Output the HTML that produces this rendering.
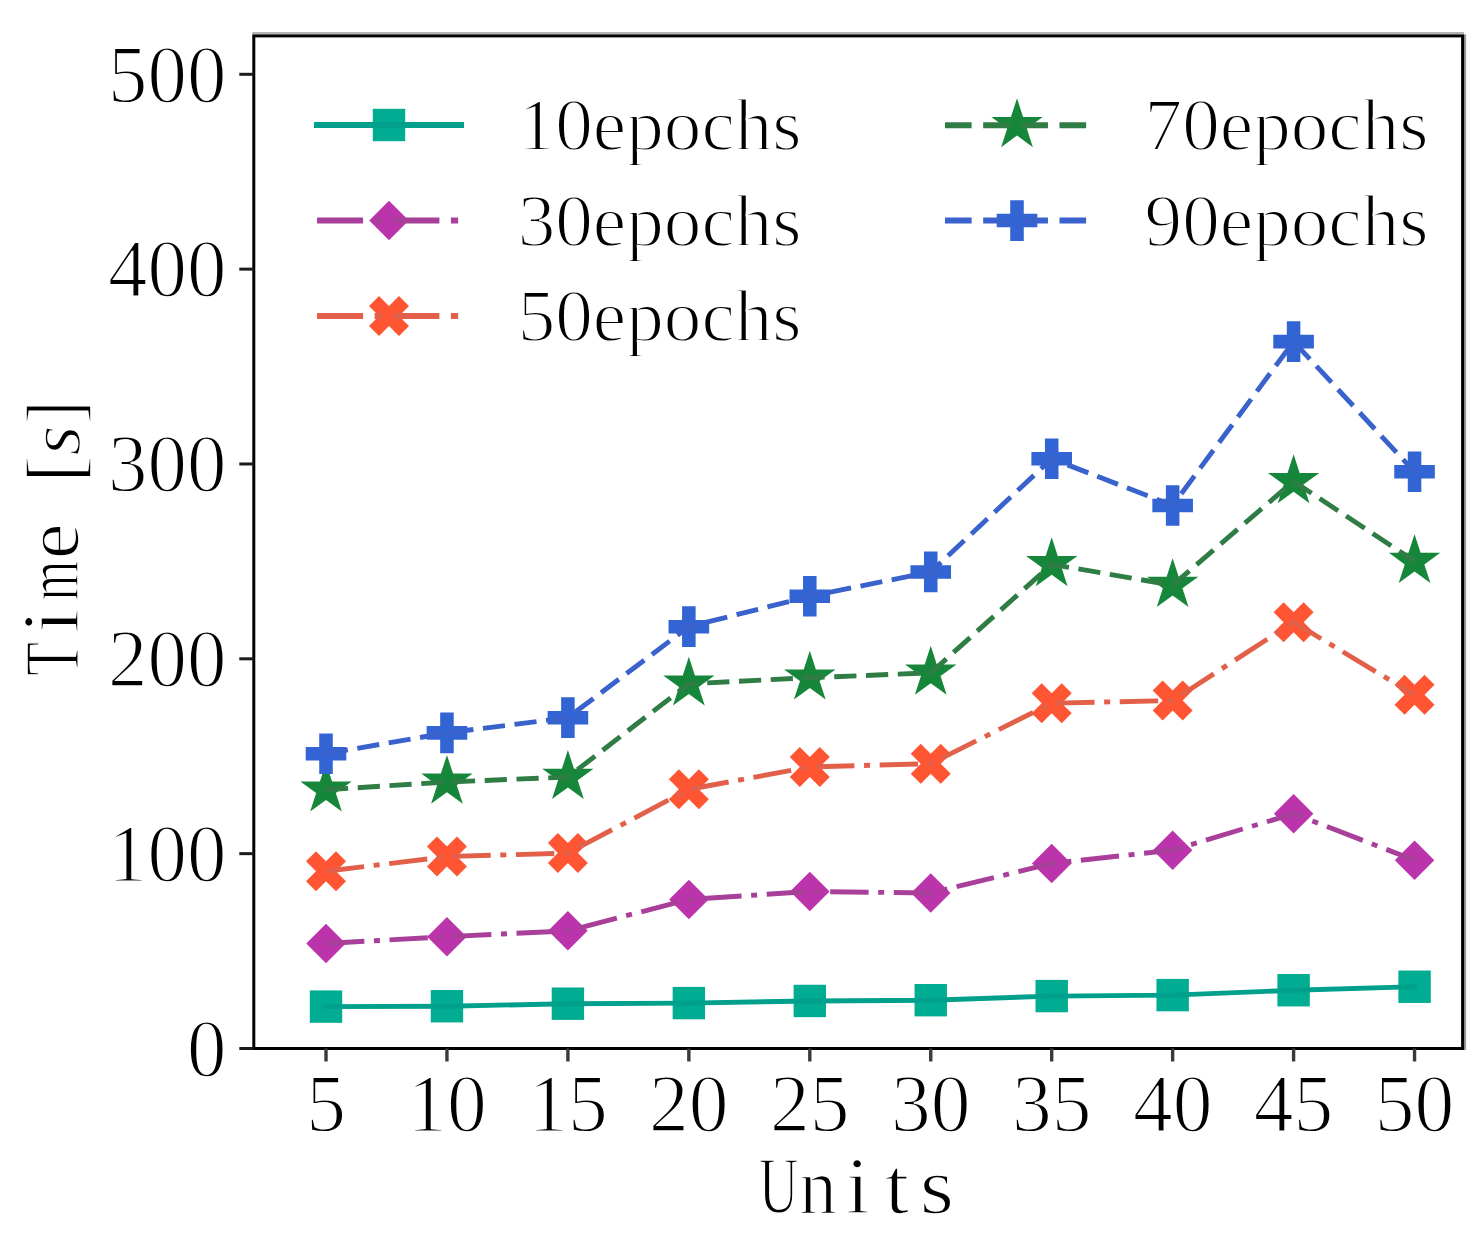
<!DOCTYPE html>
<html><head><meta charset="utf-8"><style>
html,body{margin:0;padding:0;background:#fff;width:1484px;height:1251px;overflow:hidden;font-family:"Liberation Serif",serif;}
svg{display:block}
</style></head><body>
<svg width="1484" height="1251" viewBox="0 0 1484 1251">
<rect width="1484" height="1251" fill="#fff"/>
<rect x="309.80" y="990.41" width="32.40" height="32.40" fill="#00ac92" fill-opacity="1.0"/>
<rect x="430.75" y="990.02" width="32.40" height="32.40" fill="#00ac92" fill-opacity="1.0"/>
<rect x="551.70" y="987.49" width="32.40" height="32.40" fill="#00ac92" fill-opacity="1.0"/>
<rect x="672.65" y="986.90" width="32.40" height="32.40" fill="#00ac92" fill-opacity="1.0"/>
<rect x="793.60" y="984.76" width="32.40" height="32.40" fill="#00ac92" fill-opacity="1.0"/>
<rect x="914.55" y="983.98" width="32.40" height="32.40" fill="#00ac92" fill-opacity="1.0"/>
<rect x="1035.50" y="979.89" width="32.40" height="32.40" fill="#00ac92" fill-opacity="1.0"/>
<rect x="1156.45" y="978.91" width="32.40" height="32.40" fill="#00ac92" fill-opacity="1.0"/>
<rect x="1277.40" y="974.04" width="32.40" height="32.40" fill="#00ac92" fill-opacity="1.0"/>
<rect x="1398.35" y="970.54" width="32.40" height="32.40" fill="#00ac92" fill-opacity="1.0"/>
<polyline points="326.00,1006.61 446.95,1006.22 567.90,1003.69 688.85,1003.10 809.80,1000.96 930.75,1000.18 1051.70,996.09 1172.65,995.11 1293.60,990.24 1414.55,986.74" fill="none" stroke="#00a08c" stroke-opacity="1.0" stroke-width="4.9" stroke-linecap="square" stroke-linejoin="round"/>
<polygon points="326.00,923.73 345.75,943.48 326.00,963.23 306.25,943.48" fill="#bc34ac" fill-opacity="1.0"/>
<polygon points="446.95,916.91 466.70,936.66 446.95,956.41 427.20,936.66" fill="#bc34ac" fill-opacity="1.0"/>
<polygon points="567.90,911.07 587.65,930.82 567.90,950.57 548.15,930.82" fill="#bc34ac" fill-opacity="1.0"/>
<polygon points="688.85,879.70 708.60,899.45 688.85,919.20 669.10,899.45" fill="#bc34ac" fill-opacity="1.0"/>
<polygon points="809.80,871.71 829.55,891.46 809.80,911.21 790.05,891.46" fill="#bc34ac" fill-opacity="1.0"/>
<polygon points="930.75,873.27 950.50,893.02 930.75,912.77 911.00,893.02" fill="#bc34ac" fill-opacity="1.0"/>
<polygon points="1051.70,843.65 1071.45,863.40 1051.70,883.15 1031.95,863.40" fill="#bc34ac" fill-opacity="1.0"/>
<polygon points="1172.65,830.40 1192.40,850.15 1172.65,869.90 1152.90,850.15" fill="#bc34ac" fill-opacity="1.0"/>
<polygon points="1293.60,793.97 1313.35,813.72 1293.60,833.47 1273.85,813.72" fill="#bc34ac" fill-opacity="1.0"/>
<polygon points="1414.55,840.53 1434.30,860.28 1414.55,880.03 1394.80,860.28" fill="#bc34ac" fill-opacity="1.0"/>
<polyline points="326.00,943.48 446.95,936.66 567.90,930.82 688.85,899.45 809.80,891.46 930.75,893.02 1051.70,863.40 1172.65,850.15 1293.60,813.72 1414.55,860.28" fill="none" stroke="#a8409a" stroke-opacity="1.0" stroke-width="4.9" stroke-linecap="butt" stroke-linejoin="round" stroke-dasharray="38.40 9.60 6.00 9.60"/>
<polygon points="316.00,851.20 326.00,861.20 336.00,851.20 346.00,861.20 336.00,871.20 346.00,881.20 336.00,891.20 326.00,881.20 316.00,891.20 306.00,881.20 316.00,871.20 306.00,861.20" fill="#ff5532" fill-opacity="1.0"/>
<polygon points="436.95,836.58 446.95,846.58 456.95,836.58 466.95,846.58 456.95,856.58 466.95,866.58 456.95,876.58 446.95,866.58 436.95,876.58 426.95,866.58 436.95,856.58 426.95,846.58" fill="#ff5532" fill-opacity="1.0"/>
<polygon points="557.90,833.08 567.90,843.08 577.90,833.08 587.90,843.08 577.90,853.08 587.90,863.08 577.90,873.08 567.90,863.08 557.90,873.08 547.90,863.08 557.90,853.08 547.90,843.08" fill="#ff5532" fill-opacity="1.0"/>
<polygon points="678.85,769.36 688.85,779.36 698.85,769.36 708.85,779.36 698.85,789.36 708.85,799.36 698.85,809.36 688.85,799.36 678.85,809.36 668.85,799.36 678.85,789.36 668.85,779.36" fill="#ff5532" fill-opacity="1.0"/>
<polygon points="799.80,746.96 809.80,756.96 819.80,746.96 829.80,756.96 819.80,766.96 829.80,776.96 819.80,786.96 809.80,776.96 799.80,786.96 789.80,776.96 799.80,766.96 789.80,756.96" fill="#ff5532" fill-opacity="1.0"/>
<polygon points="920.75,743.64 930.75,753.64 940.75,743.64 950.75,753.64 940.75,763.64 950.75,773.64 940.75,783.64 930.75,773.64 920.75,783.64 910.75,773.64 920.75,763.64 910.75,753.64" fill="#ff5532" fill-opacity="1.0"/>
<polygon points="1041.70,683.24 1051.70,693.24 1061.70,683.24 1071.70,693.24 1061.70,703.24 1071.70,713.24 1061.70,723.24 1051.70,713.24 1041.70,723.24 1031.70,713.24 1041.70,703.24 1031.70,693.24" fill="#ff5532" fill-opacity="1.0"/>
<polygon points="1162.65,680.52 1172.65,690.52 1182.65,680.52 1192.65,690.52 1182.65,700.52 1192.65,710.52 1182.65,720.52 1172.65,710.52 1162.65,720.52 1152.65,710.52 1162.65,700.52 1152.65,690.52" fill="#ff5532" fill-opacity="1.0"/>
<polygon points="1283.60,602.19 1293.60,612.19 1303.60,602.19 1313.60,612.19 1303.60,622.19 1313.60,632.19 1303.60,642.19 1293.60,632.19 1283.60,642.19 1273.60,632.19 1283.60,622.19 1273.60,612.19" fill="#ff5532" fill-opacity="1.0"/>
<polygon points="1404.55,674.87 1414.55,684.87 1424.55,674.87 1434.55,684.87 1424.55,694.87 1434.55,704.87 1424.55,714.87 1414.55,704.87 1404.55,714.87 1394.55,704.87 1404.55,694.87 1394.55,684.87" fill="#ff5532" fill-opacity="1.0"/>
<polyline points="326.00,871.20 446.95,856.58 567.90,853.08 688.85,789.36 809.80,766.96 930.75,763.64 1051.70,703.24 1172.65,700.52 1293.60,622.19 1414.55,694.87" fill="none" stroke="#e2604a" stroke-opacity="1.0" stroke-width="4.9" stroke-linecap="butt" stroke-linejoin="round" stroke-dasharray="38.40 9.60 6.00 9.60"/>
<polygon points="326.00,762.75 319.94,781.41 300.32,781.41 316.19,792.94 310.13,811.60 326.00,800.07 341.87,811.60 335.81,792.94 351.68,781.41 332.06,781.41" fill="#16873a" fill-opacity="1.0"/>
<polygon points="446.95,754.96 440.89,773.62 421.27,773.62 437.14,785.15 431.08,803.80 446.95,792.27 462.82,803.80 456.76,785.15 472.63,773.62 453.01,773.62" fill="#16873a" fill-opacity="1.0"/>
<polygon points="567.90,750.09 561.84,768.74 542.22,768.74 558.09,780.27 552.03,798.93 567.90,787.40 583.77,798.93 577.71,780.27 593.58,768.74 573.96,768.74" fill="#16873a" fill-opacity="1.0"/>
<polygon points="688.85,656.76 682.79,675.42 663.17,675.42 679.04,686.95 672.98,705.60 688.85,694.07 704.72,705.60 698.66,686.95 714.53,675.42 694.91,675.42" fill="#16873a" fill-opacity="1.0"/>
<polygon points="809.80,650.72 803.74,669.38 784.12,669.38 799.99,680.91 793.93,699.56 809.80,688.03 825.67,699.56 819.61,680.91 835.48,669.38 815.86,669.38" fill="#16873a" fill-opacity="1.0"/>
<polygon points="930.75,645.85 924.69,664.51 905.07,664.51 920.94,676.04 914.88,694.69 930.75,683.16 946.62,694.69 940.56,676.04 956.43,664.51 936.81,664.51" fill="#16873a" fill-opacity="1.0"/>
<polygon points="1051.70,537.32 1045.64,555.98 1026.02,555.98 1041.89,567.51 1035.83,586.17 1051.70,574.64 1067.57,586.17 1061.51,567.51 1077.38,555.98 1057.76,555.98" fill="#16873a" fill-opacity="1.0"/>
<polygon points="1172.65,558.17 1166.59,576.83 1146.97,576.83 1162.84,588.36 1156.78,607.01 1172.65,595.48 1188.52,607.01 1182.46,588.36 1198.33,576.83 1178.71,576.83" fill="#16873a" fill-opacity="1.0"/>
<polygon points="1293.60,454.32 1287.54,472.98 1267.92,472.98 1283.79,484.51 1277.73,503.16 1293.60,491.63 1309.47,503.16 1303.41,484.51 1319.28,472.98 1299.66,472.98" fill="#16873a" fill-opacity="1.0"/>
<polygon points="1414.55,534.21 1408.49,552.86 1388.87,552.86 1404.74,564.39 1398.68,583.05 1414.55,571.52 1430.42,583.05 1424.36,564.39 1440.23,552.86 1420.61,552.86" fill="#16873a" fill-opacity="1.0"/>
<polyline points="326.00,789.75 446.95,781.96 567.90,777.09 688.85,683.76 809.80,677.72 930.75,672.85 1051.70,564.32 1172.65,585.17 1293.60,481.32 1414.55,561.21" fill="none" stroke="#2f7d45" stroke-opacity="1.0" stroke-width="4.9" stroke-linecap="butt" stroke-linejoin="round" stroke-dasharray="22.20 9.60"/>
<polygon points="319.23,733.41 332.77,733.41 332.77,746.94 346.30,746.94 346.30,760.47 332.77,760.47 332.77,774.01 319.23,774.01 319.23,760.47 305.70,760.47 305.70,746.94 319.23,746.94" fill="#3264d4" fill-opacity="1.0"/>
<polygon points="440.18,712.56 453.72,712.56 453.72,726.09 467.25,726.09 467.25,739.63 453.72,739.63 453.72,753.16 440.18,753.16 440.18,739.63 426.65,739.63 426.65,726.09 440.18,726.09" fill="#3264d4" fill-opacity="1.0"/>
<polygon points="561.13,697.36 574.67,697.36 574.67,710.90 588.20,710.90 588.20,724.43 574.67,724.43 574.67,737.96 561.13,737.96 561.13,724.43 547.60,724.43 547.60,710.90 561.13,710.90" fill="#3264d4" fill-opacity="1.0"/>
<polygon points="682.08,606.37 695.62,606.37 695.62,619.90 709.15,619.90 709.15,633.44 695.62,633.44 695.62,646.97 682.08,646.97 682.08,633.44 668.55,633.44 668.55,619.90 682.08,619.90" fill="#3264d4" fill-opacity="1.0"/>
<polygon points="803.03,575.98 816.57,575.98 816.57,589.51 830.10,589.51 830.10,603.04 816.57,603.04 816.57,616.58 803.03,616.58 803.03,603.04 789.50,603.04 789.50,589.51 803.03,589.51" fill="#3264d4" fill-opacity="1.0"/>
<polygon points="923.98,551.62 937.52,551.62 937.52,565.15 951.05,565.15 951.05,578.69 937.52,578.69 937.52,592.22 923.98,592.22 923.98,578.69 910.45,578.69 910.45,565.15 923.98,565.15" fill="#3264d4" fill-opacity="1.0"/>
<polygon points="1044.93,438.42 1058.47,438.42 1058.47,451.95 1072.00,451.95 1072.00,465.49 1058.47,465.49 1058.47,479.02 1044.93,479.02 1044.93,465.49 1031.40,465.49 1031.40,451.95 1044.93,451.95" fill="#3264d4" fill-opacity="1.0"/>
<polygon points="1165.88,485.18 1179.42,485.18 1179.42,498.71 1192.95,498.71 1192.95,512.25 1179.42,512.25 1179.42,525.78 1165.88,525.78 1165.88,512.25 1152.35,512.25 1152.35,498.71 1165.88,498.71" fill="#3264d4" fill-opacity="1.0"/>
<polygon points="1286.83,321.32 1300.37,321.32 1300.37,334.85 1313.90,334.85 1313.90,348.39 1300.37,348.39 1300.37,361.92 1286.83,361.92 1286.83,348.39 1273.30,348.39 1273.30,334.85 1286.83,334.85" fill="#3264d4" fill-opacity="1.0"/>
<polygon points="1407.78,451.47 1421.32,451.47 1421.32,465.01 1434.85,465.01 1434.85,478.54 1421.32,478.54 1421.32,492.07 1407.78,492.07 1407.78,478.54 1394.25,478.54 1394.25,465.01 1407.78,465.01" fill="#3264d4" fill-opacity="1.0"/>
<polyline points="326.00,753.71 446.95,732.86 567.90,717.66 688.85,626.67 809.80,596.28 930.75,571.92 1051.70,458.72 1172.65,505.48 1293.60,341.62 1414.55,471.77" fill="none" stroke="#3a62cc" stroke-opacity="1.0" stroke-width="4.9" stroke-linecap="butt" stroke-linejoin="round" stroke-dasharray="22.20 9.60"/>
<line x1="252.30" y1="33.2" x2="1464.10" y2="33.2" stroke="#b4b4b4" stroke-width="2.2"/>
<line x1="1465.0" y1="34.40" x2="1465.0" y2="1050.00" stroke="#9a9a9a" stroke-width="2.2"/>
<rect x="253.80" y="35.90" width="1208.80" height="1012.60" fill="none" stroke="#000" stroke-width="3.0"/>
<line x1="239.30" y1="1048.50" x2="253.80" y2="1048.50" stroke="#1a1a1a" stroke-width="3.0"/>
<text transform="translate(226.3,1075.80) scale(0.95,1)" font-family="Liberation Serif, serif" stroke="#fff" stroke-width="1.8" paint-order="fill stroke" font-size="83" text-anchor="end" fill="#000">0</text>
<line x1="239.30" y1="853.66" x2="253.80" y2="853.66" stroke="#1a1a1a" stroke-width="3.0"/>
<text transform="translate(226.3,880.96) scale(0.95,1)" font-family="Liberation Serif, serif" stroke="#fff" stroke-width="1.8" paint-order="fill stroke" font-size="83" text-anchor="end" fill="#000">100</text>
<line x1="239.30" y1="658.82" x2="253.80" y2="658.82" stroke="#1a1a1a" stroke-width="3.0"/>
<text transform="translate(226.3,686.12) scale(0.95,1)" font-family="Liberation Serif, serif" stroke="#fff" stroke-width="1.8" paint-order="fill stroke" font-size="83" text-anchor="end" fill="#000">200</text>
<line x1="239.30" y1="463.98" x2="253.80" y2="463.98" stroke="#1a1a1a" stroke-width="3.0"/>
<text transform="translate(226.3,491.28) scale(0.95,1)" font-family="Liberation Serif, serif" stroke="#fff" stroke-width="1.8" paint-order="fill stroke" font-size="83" text-anchor="end" fill="#000">300</text>
<line x1="239.30" y1="269.14" x2="253.80" y2="269.14" stroke="#1a1a1a" stroke-width="3.0"/>
<text transform="translate(226.3,296.44) scale(0.95,1)" font-family="Liberation Serif, serif" stroke="#fff" stroke-width="1.8" paint-order="fill stroke" font-size="83" text-anchor="end" fill="#000">400</text>
<line x1="239.30" y1="74.30" x2="253.80" y2="74.30" stroke="#1a1a1a" stroke-width="3.0"/>
<text transform="translate(226.3,101.60) scale(0.95,1)" font-family="Liberation Serif, serif" stroke="#fff" stroke-width="1.8" paint-order="fill stroke" font-size="83" text-anchor="end" fill="#000">500</text>
<line x1="326.00" y1="1048.50" x2="326.00" y2="1061.50" stroke="#3a3a3a" stroke-width="3.4"/>
<text transform="translate(326.00,1131.0) scale(0.958,1)" font-family="Liberation Serif, serif" stroke="#fff" stroke-width="1.8" paint-order="fill stroke" font-size="83" text-anchor="middle" fill="#000">5</text>
<line x1="446.95" y1="1048.50" x2="446.95" y2="1061.50" stroke="#3a3a3a" stroke-width="3.4"/>
<text transform="translate(446.95,1131.0) scale(0.958,1)" font-family="Liberation Serif, serif" stroke="#fff" stroke-width="1.8" paint-order="fill stroke" font-size="83" text-anchor="middle" fill="#000">10</text>
<line x1="567.90" y1="1048.50" x2="567.90" y2="1061.50" stroke="#3a3a3a" stroke-width="3.4"/>
<text transform="translate(567.90,1131.0) scale(0.958,1)" font-family="Liberation Serif, serif" stroke="#fff" stroke-width="1.8" paint-order="fill stroke" font-size="83" text-anchor="middle" fill="#000">15</text>
<line x1="688.85" y1="1048.50" x2="688.85" y2="1061.50" stroke="#3a3a3a" stroke-width="3.4"/>
<text transform="translate(688.85,1131.0) scale(0.958,1)" font-family="Liberation Serif, serif" stroke="#fff" stroke-width="1.8" paint-order="fill stroke" font-size="83" text-anchor="middle" fill="#000">20</text>
<line x1="809.80" y1="1048.50" x2="809.80" y2="1061.50" stroke="#3a3a3a" stroke-width="3.4"/>
<text transform="translate(809.80,1131.0) scale(0.958,1)" font-family="Liberation Serif, serif" stroke="#fff" stroke-width="1.8" paint-order="fill stroke" font-size="83" text-anchor="middle" fill="#000">25</text>
<line x1="930.75" y1="1048.50" x2="930.75" y2="1061.50" stroke="#3a3a3a" stroke-width="3.4"/>
<text transform="translate(930.75,1131.0) scale(0.958,1)" font-family="Liberation Serif, serif" stroke="#fff" stroke-width="1.8" paint-order="fill stroke" font-size="83" text-anchor="middle" fill="#000">30</text>
<line x1="1051.70" y1="1048.50" x2="1051.70" y2="1061.50" stroke="#3a3a3a" stroke-width="3.4"/>
<text transform="translate(1051.70,1131.0) scale(0.958,1)" font-family="Liberation Serif, serif" stroke="#fff" stroke-width="1.8" paint-order="fill stroke" font-size="83" text-anchor="middle" fill="#000">35</text>
<line x1="1172.65" y1="1048.50" x2="1172.65" y2="1061.50" stroke="#3a3a3a" stroke-width="3.4"/>
<text transform="translate(1172.65,1131.0) scale(0.958,1)" font-family="Liberation Serif, serif" stroke="#fff" stroke-width="1.8" paint-order="fill stroke" font-size="83" text-anchor="middle" fill="#000">40</text>
<line x1="1293.60" y1="1048.50" x2="1293.60" y2="1061.50" stroke="#3a3a3a" stroke-width="3.4"/>
<text transform="translate(1293.60,1131.0) scale(0.958,1)" font-family="Liberation Serif, serif" stroke="#fff" stroke-width="1.8" paint-order="fill stroke" font-size="83" text-anchor="middle" fill="#000">45</text>
<line x1="1414.55" y1="1048.50" x2="1414.55" y2="1061.50" stroke="#3a3a3a" stroke-width="3.4"/>
<text transform="translate(1414.55,1131.0) scale(0.958,1)" font-family="Liberation Serif, serif" stroke="#fff" stroke-width="1.8" paint-order="fill stroke" font-size="83" text-anchor="middle" fill="#000">50</text>
<rect x="372.80" y="108.80" width="32.40" height="32.40" fill="#00ac92" fill-opacity="1.0"/>
<polyline points="317.00,125.00 461.00,125.00" fill="none" stroke="#00a08c" stroke-opacity="1.0" stroke-width="6.0" stroke-linecap="square" stroke-linejoin="round"/>
<text transform="translate(517.7,150.00) scale(1.016,1)" font-family="Liberation Serif, serif" stroke="#fff" stroke-width="1.8" paint-order="fill stroke" font-size="74" fill="#000">10epochs</text>
<polygon points="389.00,200.75 408.75,220.50 389.00,240.25 369.25,220.50" fill="#bc34ac" fill-opacity="1.0"/>
<polyline points="317.00,220.50 461.00,220.50" fill="none" stroke="#a8409a" stroke-opacity="1.0" stroke-width="6.0" stroke-linecap="butt" stroke-linejoin="round" stroke-dasharray="46.08 11.52 7.20 11.52"/>
<text transform="translate(517.7,245.50) scale(1.016,1)" font-family="Liberation Serif, serif" stroke="#fff" stroke-width="1.8" paint-order="fill stroke" font-size="74" fill="#000">30epochs</text>
<polygon points="379.00,296.00 389.00,306.00 399.00,296.00 409.00,306.00 399.00,316.00 409.00,326.00 399.00,336.00 389.00,326.00 379.00,336.00 369.00,326.00 379.00,316.00 369.00,306.00" fill="#ff5532" fill-opacity="1.0"/>
<polyline points="317.00,316.00 461.00,316.00" fill="none" stroke="#e2604a" stroke-opacity="1.0" stroke-width="6.0" stroke-linecap="butt" stroke-linejoin="round" stroke-dasharray="46.08 11.52 7.20 11.52"/>
<text transform="translate(517.7,341.00) scale(1.016,1)" font-family="Liberation Serif, serif" stroke="#fff" stroke-width="1.8" paint-order="fill stroke" font-size="74" fill="#000">50epochs</text>
<polygon points="1017.00,98.30 1010.94,116.96 991.32,116.96 1007.19,128.49 1001.13,147.14 1017.00,135.61 1032.87,147.14 1026.81,128.49 1042.68,116.96 1023.06,116.96" fill="#16873a" fill-opacity="1.0"/>
<polyline points="945.00,125.30 1089.00,125.30" fill="none" stroke="#2f7d45" stroke-opacity="1.0" stroke-width="6.0" stroke-linecap="butt" stroke-linejoin="round" stroke-dasharray="26.64 11.52"/>
<text transform="translate(1144.6,150.30) scale(1.016,1)" font-family="Liberation Serif, serif" stroke="#fff" stroke-width="1.8" paint-order="fill stroke" font-size="74" fill="#000">70epochs</text>
<polygon points="1010.23,200.30 1023.77,200.30 1023.77,213.83 1037.30,213.83 1037.30,227.37 1023.77,227.37 1023.77,240.90 1010.23,240.90 1010.23,227.37 996.70,227.37 996.70,213.83 1010.23,213.83" fill="#3264d4" fill-opacity="1.0"/>
<polyline points="945.00,220.60 1089.00,220.60" fill="none" stroke="#3a62cc" stroke-opacity="1.0" stroke-width="6.0" stroke-linecap="butt" stroke-linejoin="round" stroke-dasharray="26.64 11.52"/>
<text transform="translate(1144.6,245.60) scale(1.016,1)" font-family="Liberation Serif, serif" stroke="#fff" stroke-width="1.8" paint-order="fill stroke" font-size="74" fill="#000">90epochs</text>
<text transform="translate(758.74,1212.70) scale(0.681,1)" font-family="Liberation Serif, serif" stroke="#fff" stroke-width="1.6" paint-order="fill stroke" font-size="81" fill="#000">U</text>
<text transform="translate(799.17,1212.70) scale(0.939,1)" font-family="Liberation Serif, serif" stroke="#fff" stroke-width="1.6" paint-order="fill stroke" font-size="80" fill="#000">n</text>
<text transform="translate(845.58,1212.70) scale(1.100,1)" font-family="Liberation Serif, serif" stroke="#fff" stroke-width="1.6" paint-order="fill stroke" font-size="80" fill="#000">i</text>
<text transform="translate(884.74,1212.70) scale(1.100,1)" font-family="Liberation Serif, serif" stroke="#fff" stroke-width="1.6" paint-order="fill stroke" font-size="80" fill="#000">t</text>
<text transform="translate(919.76,1212.70) scale(1.100,1)" font-family="Liberation Serif, serif" stroke="#fff" stroke-width="1.6" paint-order="fill stroke" font-size="80" fill="#000">s</text>
<text transform="translate(78.00,675.80) rotate(-90) scale(0.701,1)" font-family="Liberation Serif, serif" stroke="#fff" stroke-width="1.6" paint-order="fill stroke" font-size="79" fill="#000">T</text>
<text transform="translate(78.00,633.47) rotate(-90) scale(1.100,1)" font-family="Liberation Serif, serif" stroke="#fff" stroke-width="1.6" paint-order="fill stroke" font-size="80" fill="#000">i</text>
<text transform="translate(78.00,600.48) rotate(-90) scale(0.675,1)" font-family="Liberation Serif, serif" stroke="#fff" stroke-width="1.6" paint-order="fill stroke" font-size="76" fill="#000">m</text>
<text transform="translate(78.00,559.15) rotate(-90) scale(1.063,1)" font-family="Liberation Serif, serif" stroke="#fff" stroke-width="1.6" paint-order="fill stroke" font-size="76" fill="#000">e</text>
<text transform="translate(81.20,482.91) rotate(-90) scale(1.061,1)" font-family="Liberation Serif, serif" stroke="#fff" stroke-width="1.6" paint-order="fill stroke" font-size="79" fill="#000">[</text>
<text transform="translate(79.50,455.53) rotate(-90) scale(1.048,1)" font-family="Liberation Serif, serif" stroke="#fff" stroke-width="1.6" paint-order="fill stroke" font-size="74" fill="#000" font-style="italic">s</text>
<text transform="translate(81.20,424.12) rotate(-90) scale(0.886,1)" font-family="Liberation Serif, serif" stroke="#fff" stroke-width="1.6" paint-order="fill stroke" font-size="79" fill="#000">]</text>
</svg>
</body></html>
